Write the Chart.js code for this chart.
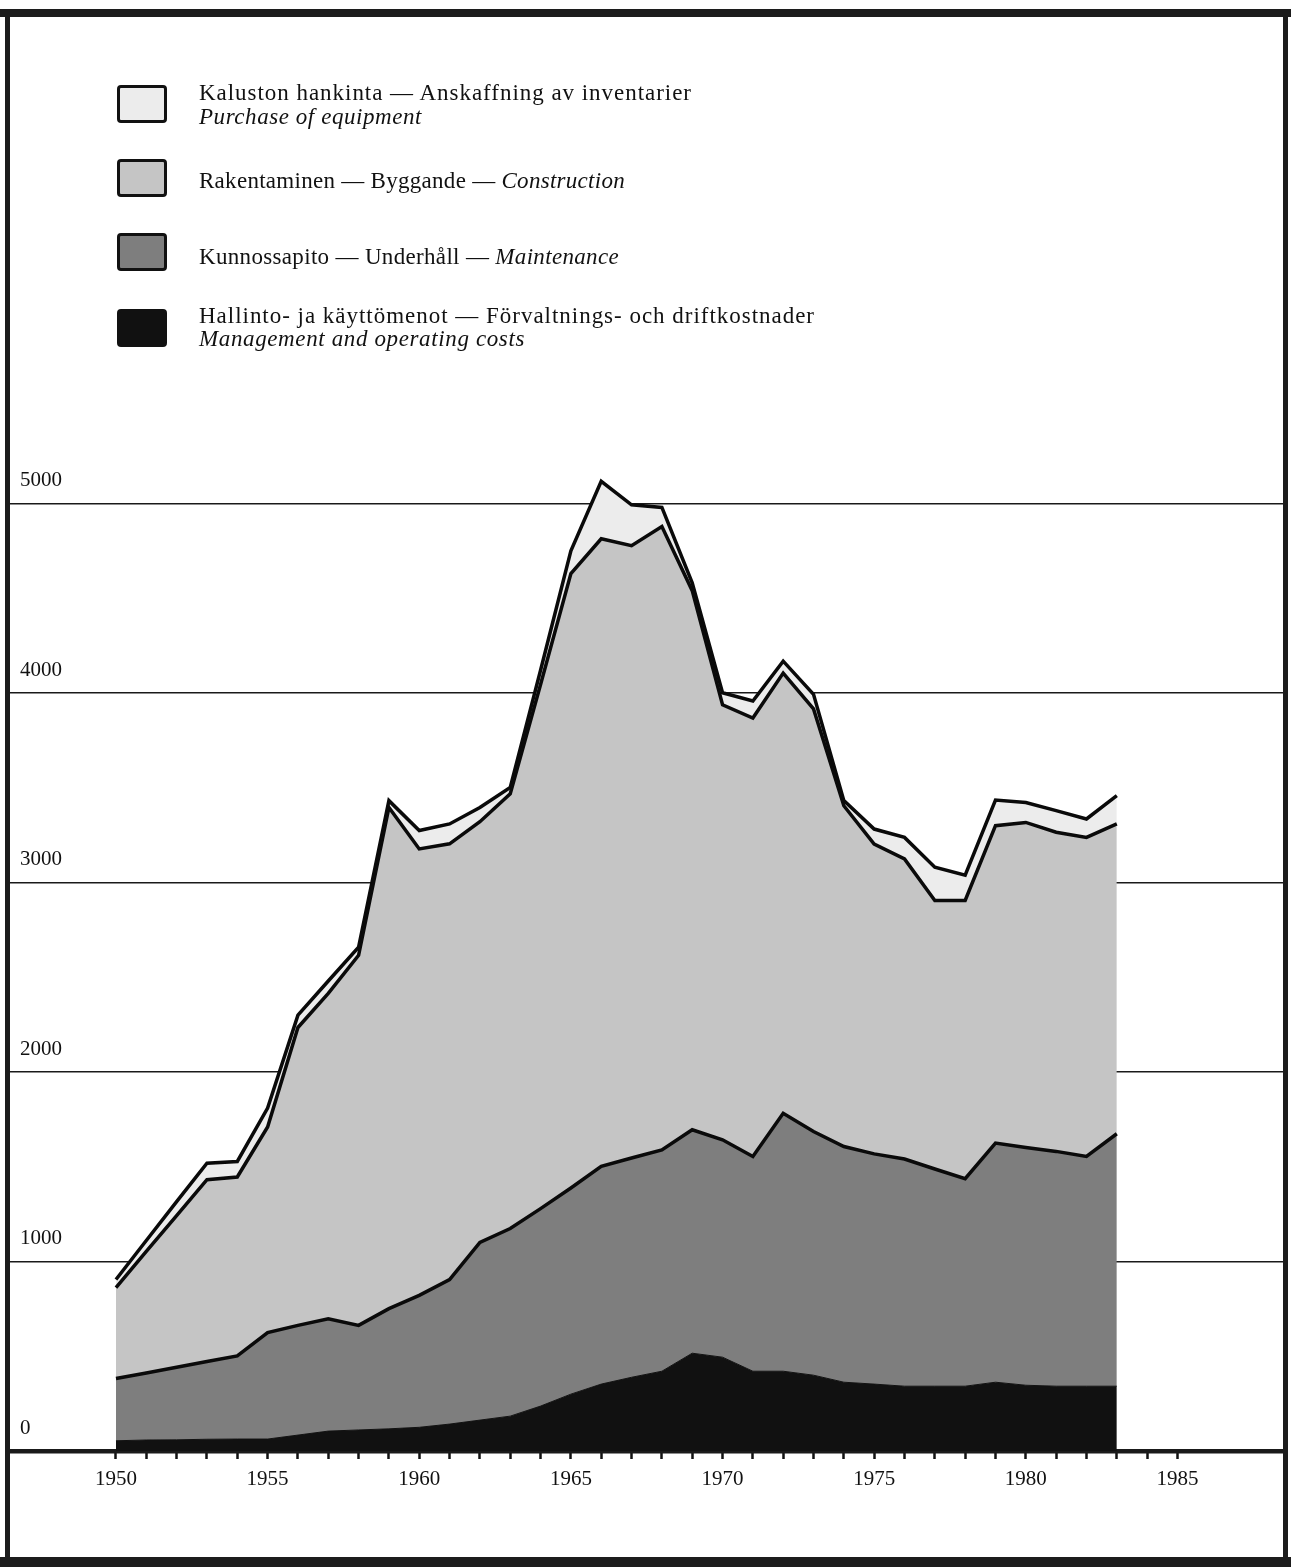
<!DOCTYPE html>
<html><head><meta charset="utf-8">
<script src="https://cdn.jsdelivr.net/npm/chart.js@4/dist/chart.umd.min.js"></script>
<style>
html,body{margin:0;padding:0;background:#fff;}
#wrap{position:relative;width:1291px;height:1567px;overflow:hidden;background:#fff;}
canvas{position:absolute;left:0;top:0;}
.frame{position:absolute;background:#1c1c1c;}
.box{position:absolute;left:117px;width:44px;height:32px;border:3px solid #111;border-radius:4px;}
.txt{position:absolute;left:199px;font-family:"Liberation Serif","Times New Roman",serif;font-size:23px;line-height:24px;white-space:nowrap;color:#111;}
.txt i{font-style:italic;}
</style></head><body>
<div id="wrap">
<canvas id="c" width="1291" height="1567"></canvas>
<div class="frame" style="left:0;top:9px;width:1291px;height:8px"></div>
<div class="frame" style="left:5px;top:9px;width:5px;height:1558px"></div>
<div class="frame" style="left:1283px;top:9px;width:5px;height:1558px"></div>
<div class="frame" style="left:0;top:1557px;width:1291px;height:10px"></div>

<div class="box" style="top:85px;background:#ececec"></div>
<div class="box" style="top:159px;background:#c5c5c5"></div>
<div class="box" style="top:233px;background:#7e7e7e"></div>
<div class="box" style="top:309px;background:#111"></div>

<div class="txt" data-w="493" style="top:81px">Kaluston hankinta — Anskaffning av inventarier</div>
<div class="txt" data-w="223" style="top:105px"><i>Purchase of equipment</i></div>
<div class="txt" data-w="426" style="top:169px">Rakentaminen — Byggande — <i>Construction</i></div>
<div class="txt" data-w="420" style="top:245px">Kunnossapito — Underhåll — <i>Maintenance</i></div>
<div class="txt" data-w="616" style="top:304px">Hallinto- ja käyttömenot — Förvaltnings- och driftkostnader</div>
<div class="txt" data-w="326" style="top:327px"><i>Management and operating costs</i></div>
</div>
<script>
const years = [1950,1951,1952,1953,1954,1955,1956,1957,1958,1959,1960,1961,1962,1963,1964,1965,1966,
  1967,1968,1969,1970,1971,1972,1973,1974,1975,1976,1977,1978,1979,1980,1981,1982,1983];
const management  = [54,58,59,62,63,63,84,105,111,117,125,142,163,184,237,300,353,389,421,516,495,421,421,400,363,353,342,342,342,363,347,342,342,342];
const maintenance = [329,354,383,410,439,562,579,593,552,634,696,763,938,990,1042,1088,1149,1157,1168,1179,1147,1133,1361,1286,1244,1215,1199,1146,1095,1262,1255,1239,1212,1332];
const construction= [479,641,800,960,944,1085,1572,1717,1953,2645,2356,2299,2220,2294,2766,3242,3312,3231,3290,2845,2296,2314,2323,2230,1798,1635,1583,1417,1468,1675,1715,1684,1684,1635];
const equipment   = [43,58,74,87,82,100,65,65,43,36,97,105,75,34,75,120,303,216,100,41,63,90,63,77,27,79,114,176,134,135,105,114,97,149];
const yTicks = [0,1000,2000,3000,4000,5000];
const xTickYears = [1950,1955,1960,1965,1970,1975,1980,1985];

const pts = arr => years.map((yr,i)=>({x:yr,y:arr[i]}));
const serif = "'Liberation Serif','Times New Roman',serif";

new Chart(document.getElementById('c'), {
  type:'line',
  data:{datasets:[
    {label:'Hallinto- ja käyttömenot',data:pts(management),fill:'origin',backgroundColor:'#111111',borderColor:'#111111',borderWidth:1,pointRadius:0,tension:0},
    {label:'Kunnossapito',data:pts(maintenance),fill:'-1',backgroundColor:'#7e7e7e',borderColor:'#0a0a0a',borderWidth:3.5,pointRadius:0,tension:0,borderJoinStyle:'miter'},
    {label:'Rakentaminen',data:pts(construction),fill:'-1',backgroundColor:'#c5c5c5',borderColor:'#0a0a0a',borderWidth:3.5,pointRadius:0,tension:0,borderJoinStyle:'miter'},
    {label:'Kaluston hankinta',data:pts(equipment),fill:'-1',backgroundColor:'#ececec',borderColor:'#0a0a0a',borderWidth:3.5,pointRadius:0,tension:0,borderJoinStyle:'miter'}
  ]},
  options:{
    responsive:false, animation:false, devicePixelRatio:1, events:[],
    layout:{padding:{left:8,right:8,top:386,bottom:56}},
    plugins:{legend:{display:false},tooltip:{enabled:false},filler:{drawTime:'beforeDatasetsDraw'}},
    scales:{
      x:{type:'linear',min:1946.44,max:1988.48,
        afterFit:s=>{s.height=60;},
        afterBuildTicks:s=>{s.ticks=[];for(let y=1950;y<=1985;y++)s.ticks.push({value:y});},
        ticks:{autoSkip:false,maxRotation:0,padding:8,color:'#111',font:{family:serif,size:21},
          callback:v=>xTickYears.includes(v)?String(v):''},
        grid:{drawOnChartArea:false,drawTicks:true,tickLength:8,tickWidth:2.5,tickColor:'#111'},
        border:{display:false}},
      y:{stacked:true,min:0,max:5620,
        afterFit:s=>{s.width=0;},
        afterBuildTicks:s=>{s.ticks=yTicks.map(v=>({value:v}));},
        ticks:{mirror:true,padding:12,labelOffset:-23,color:'#111',font:{family:serif,size:21},callback:v=>String(v)},
        grid:{color:'#1a1a1a',lineWidth:c=>c.tick&&c.tick.value===0?4.5:1.6,drawTicks:false},
        border:{display:false}}
    }
  }
});

function fit(){
  document.querySelectorAll('.txt[data-w]').forEach(el=>{
    el.style.letterSpacing='0px';
    const target=+el.dataset.w;
    const w=el.getBoundingClientRect().width;
    const n=el.textContent.length;
    el.style.letterSpacing=((target-w)/n)+'px';
  });
}
fit();
if(document.fonts&&document.fonts.ready)document.fonts.ready.then(fit);
</script>
</body></html>
